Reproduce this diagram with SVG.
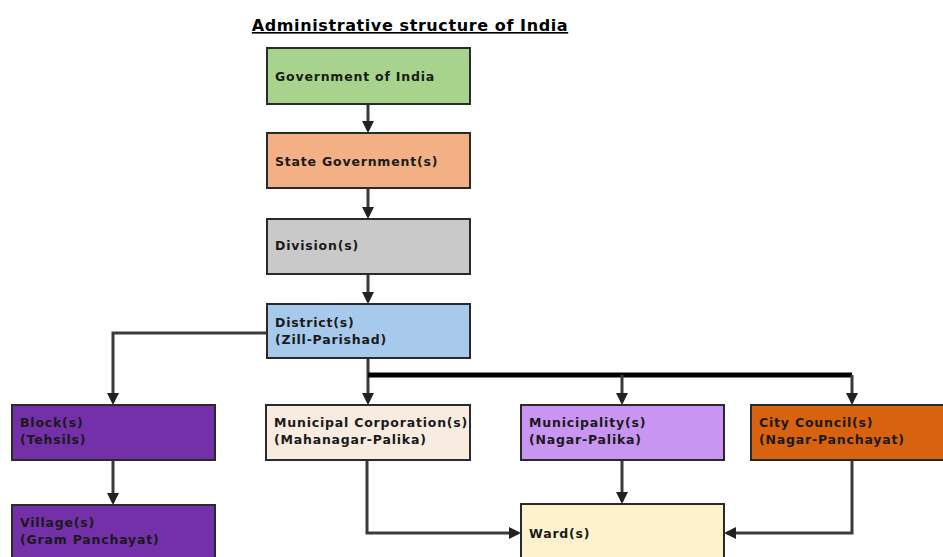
<svg xmlns="http://www.w3.org/2000/svg" width="943" height="557" viewBox="0 0 943 557">
<style>
.box{stroke:#2a2a2a;stroke-width:2}
.t{font-family:"DejaVu Sans",sans-serif;font-weight:bold;font-size:12.5px;letter-spacing:0.8px;fill:#1a1a1a}
.title{font-family:"DejaVu Sans",sans-serif;font-weight:bold;font-size:16px;letter-spacing:0.6px;fill:#000;text-decoration:underline}
.c{fill:none;stroke:#3a3a3a;stroke-width:3}
.ct{fill:none;stroke:#000;stroke-width:5}
</style>
<defs>
<marker id="a" markerWidth="4" markerHeight="4" refX="3" refY="2" orient="auto" markerUnits="strokeWidth">
<path d="M0,0 L4,2 L0,4 z" fill="#222"/>
</marker>
</defs>
<rect width="943" height="557" fill="#fff"/>
<text class="title" x="410" y="31" text-anchor="middle">Administrative structure of India</text>
<g id="connectors">
<path class="c" d="M368,105 V130" marker-end="url(#a)"/>
<path class="c" d="M368,189 V216" marker-end="url(#a)"/>
<path class="c" d="M368,275 V301" marker-end="url(#a)"/>
<path class="c" d="M267,333 H113 V402" marker-end="url(#a)"/>
<path class="c" d="M368,359 V402" marker-end="url(#a)"/>
<path class="ct" d="M368,375 H852"/>
<path class="c" d="M622,375 V402" marker-end="url(#a)"/>
<path class="c" d="M852,375 V402" marker-end="url(#a)"/>
<path class="c" d="M113,461 V502" marker-end="url(#a)"/>
<path class="c" d="M367,461 V533 H518" marker-end="url(#a)"/>
<path class="c" d="M622,461 V501" marker-end="url(#a)"/>
<path class="c" d="M852,461 V533 H727" marker-end="url(#a)"/>
</g>
<g id="gov"><rect class="box" x="267" y="48" width="203" height="56" fill="#a8d38c"/><text class="t" x="275" y="81">Government of India</text></g>
<g id="state"><rect class="box" x="267" y="133" width="203" height="55" fill="#f2b084"/><text class="t" x="275" y="166">State Government(s)</text></g>
<g id="division"><rect class="box" x="267" y="219" width="203" height="55" fill="#c9c9c9"/><text class="t" x="275" y="250">Division(s)</text></g>
<g id="district"><rect class="box" x="267" y="304" width="203" height="54" fill="#a7caec"/><text class="t" x="275" y="327">District(s)</text><text class="t" x="275" y="344">(Zill-Parishad)</text></g>
<g id="block"><rect class="box" x="12" y="405" width="203" height="55" fill="#7330a8"/><text class="t" x="20" y="427">Block(s)</text><text class="t" x="20" y="444">(Tehsils)</text></g>
<g id="village"><rect class="box" x="12" y="505" width="203" height="56" fill="#7330a8"/><text class="t" x="20" y="527">Village(s)</text><text class="t" x="20" y="544">(Gram Panchayat)</text></g>
<g id="municorp"><rect class="box" x="266" y="405" width="204" height="55" fill="#f8ece0"/><text class="t" x="274" y="427">Municipal Corporation(s)</text><text class="t" x="274" y="444">(Mahanagar-Palika)</text></g>
<g id="municipality"><rect class="box" x="521" y="405" width="203" height="55" fill="#c895f2"/><text class="t" x="529" y="427">Municipality(s)</text><text class="t" x="529" y="444">(Nagar-Palika)</text></g>
<g id="citycouncil"><rect class="box" x="751" y="405" width="196" height="55" fill="#d9620f"/><text class="t" x="759" y="427">City Council(s)</text><text class="t" x="759" y="444">(Nagar-Panchayat)</text></g>
<g id="ward"><rect class="box" x="521" y="504" width="203" height="57" fill="#fdf2cc"/><text class="t" x="529" y="538">Ward(s)</text></g>
</svg>
